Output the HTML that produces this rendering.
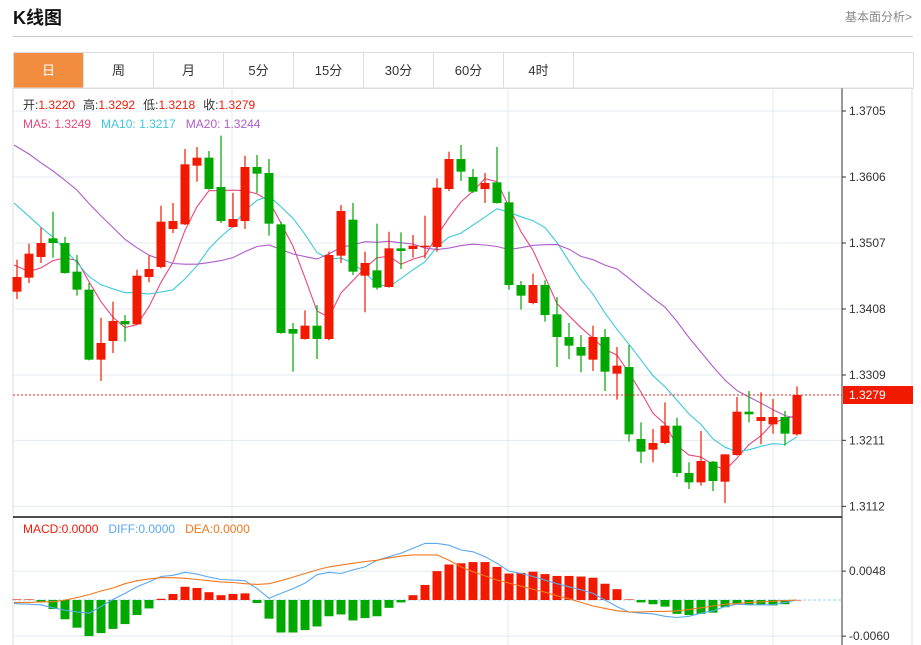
<!DOCTYPE html>
<html><head><meta charset="utf-8">
<style>
body{margin:0;width:921px;height:645px;overflow:hidden;background:#fff;font-family:"Liberation Sans","Noto Sans CJK SC",sans-serif;}
#title{position:absolute;left:13px;top:4px;font-size:18px;font-weight:bold;color:#111;}
#more{position:absolute;right:9px;top:8px;font-size:12px;color:#888;}
#hr{position:absolute;left:13px;top:36px;width:900px;height:1px;background:#ccc;}
#tabs{position:absolute;left:13px;top:52px;width:899px;height:35px;border:1px solid #ddd;border-bottom:1px solid #ddd;}
.tab{position:absolute;top:0;width:70px;height:35px;line-height:35px;text-align:center;font-size:13px;color:#333;border-right:1px solid #ddd;box-sizing:border-box;}
.tab.on{background:#f28c3e;color:#fff;}
svg{position:absolute;left:0;top:0;}
</style></head><body>
<div id="title">K线图</div>
<div id="more">基本面分析&gt;</div>
<div id="hr"></div>
<div id="tabs">
<div class="tab on" style="left:0">日</div>
<div class="tab" style="left:70px">周</div>
<div class="tab" style="left:140px">月</div>
<div class="tab" style="left:210px">5分</div>
<div class="tab" style="left:280px">15分</div>
<div class="tab" style="left:350px">30分</div>
<div class="tab" style="left:420px">60分</div>
<div class="tab" style="left:490px">4时</div>
</div>
<svg id="chart" width="921" height="645" style="top:0">
<rect x="13" y="88" width="899" height="560" fill="none" stroke="#ddd"/>
<g id="grid"></g><g id="macd"></g><g id="ma"></g><g id="candles"></g><g id="axis"></g>
<text x="23" y="109" font-size="12"><tspan fill="#333">开:</tspan><tspan fill="#f01a0a">1.3220</tspan><tspan fill="#333" dx="8">高:</tspan><tspan fill="#f01a0a">1.3292</tspan><tspan fill="#333" dx="8">低:</tspan><tspan fill="#f01a0a">1.3218</tspan><tspan fill="#333" dx="8">收:</tspan><tspan fill="#f01a0a">1.3279</tspan></text>
<text x="23" y="128" font-size="12"><tspan fill="#e8467c">MA5: 1.3249</tspan><tspan fill="#3cc8dc" dx="10">MA10: 1.3217</tspan><tspan fill="#b05cc8" dx="10">MA20: 1.3244</tspan></text>
<text x="23" y="533" font-size="12"><tspan fill="#f01a0a">MACD:0.0000</tspan><tspan fill="#5aa8f0" dx="10">DIFF:0.0000</tspan><tspan fill="#f07820" dx="10">DEA:0.0000</tspan></text>
</svg>
<script>
const opens=[1.3434,1.3455,1.3486,1.3514,1.3507,1.3464,1.3437,1.3332,1.3360,1.3390,1.3385,1.3456,1.3471,1.3528,1.3535,1.3623,1.3635,1.3591,1.3531,1.3540,1.3621,1.3612,1.3535,1.3378,1.3363,1.3383,1.3363,1.3488,1.3542,1.3458,1.3466,1.3441,1.3499,1.3498,1.3501,1.3501,1.3588,1.3633,1.3606,1.3588,1.3598,1.3568,1.3444,1.3417,1.3444,1.3400,1.3366,1.3351,1.3332,1.3366,1.3311,1.3321,1.3213,1.3197,1.3207,1.3233,1.3162,1.3148,1.3179,1.3149,1.3189,1.3254,1.3240,1.3235,1.3246,1.3220];
const highs=[1.3482,1.3506,1.3530,1.3554,1.3516,1.3489,1.3447,1.3395,1.3419,1.3399,1.3467,1.3488,1.3563,1.3567,1.3648,1.3651,1.3645,1.3668,1.3582,1.3638,1.3639,1.3633,1.3539,1.3387,1.3406,1.3414,1.3494,1.3564,1.3567,1.3494,1.3536,1.3524,1.3523,1.3519,1.3548,1.3604,1.3644,1.3654,1.3618,1.3612,1.3651,1.3584,1.3450,1.3461,1.3451,1.3426,1.3387,1.3369,1.3383,1.3378,1.3351,1.3354,1.3238,1.3228,1.3268,1.3245,1.3178,1.3225,1.3180,1.3190,1.3276,1.3285,1.3283,1.3273,1.3255,1.3292];
const lows=[1.3423,1.3447,1.3477,1.3485,1.3461,1.3428,1.3331,1.3300,1.3342,1.3359,1.3384,1.3448,1.3469,1.3522,1.3534,1.3599,1.3587,1.3537,1.3530,1.3528,1.3582,1.3518,1.3371,1.3314,1.3362,1.3333,1.3361,1.3477,1.3459,1.3403,1.3437,1.3440,1.3468,1.3485,1.3484,1.3494,1.3585,1.3600,1.3582,1.3567,1.3566,1.3437,1.3407,1.3415,1.3389,1.3321,1.3333,1.3313,1.3315,1.3285,1.3272,1.3209,1.3177,1.3178,1.3205,1.3156,1.3138,1.3143,1.3135,1.3117,1.3188,1.3238,1.3205,1.3221,1.3203,1.3218];
const closes=[1.3456,1.3491,1.3507,1.3507,1.3462,1.3437,1.3332,1.3357,1.3390,1.3385,1.3458,1.3468,1.3539,1.3540,1.3625,1.3635,1.3588,1.3540,1.3543,1.3621,1.3611,1.3536,1.3372,1.3371,1.3383,1.3363,1.3489,1.3555,1.3464,1.3477,1.3440,1.3499,1.3495,1.3503,1.3503,1.3590,1.3633,1.3614,1.3584,1.3597,1.3567,1.3444,1.3428,1.3444,1.3399,1.3366,1.3353,1.3338,1.3366,1.3314,1.3323,1.3220,1.3194,1.3207,1.3233,1.3162,1.3148,1.3180,1.3150,1.3190,1.3254,1.3250,1.3246,1.3246,1.3221,1.3279];
const priorCloses=[1.3760,1.3772,1.3750,1.3745,1.3730,1.3738,1.3725,1.3742,1.3735,1.3713,1.3690,1.3672,1.3655,1.3648,1.3635,1.3540,1.3480,1.3452,1.3442];
const macdHist=[0.0001,0.0001,-0.0004,-0.0015,-0.0032,-0.0046,-0.0060,-0.0055,-0.0048,-0.0040,-0.0025,-0.0014,0.0002,0.0010,0.0022,0.0020,0.0013,0.0008,0.0010,0.0011,-0.0005,-0.0031,-0.0054,-0.0054,-0.0050,-0.0044,-0.0027,-0.0024,-0.0034,-0.0030,-0.0027,-0.0013,-0.0004,0.0008,0.0025,0.0048,0.0059,0.0061,0.0063,0.0063,0.0055,0.0044,0.0045,0.0047,0.0043,0.0040,0.0040,0.0039,0.0037,0.0027,0.0018,0.0001,-0.0004,-0.0007,-0.0011,-0.0023,-0.0025,-0.0023,-0.0021,-0.0012,-0.0006,-0.0008,-0.0008,-0.0009,-0.0007,0.0000];
const diffValues=[-0.0006,-0.0007,-0.0008,-0.0013,-0.0017,-0.0020,-0.0022,-0.0011,0.0001,0.0011,0.0022,0.0030,0.0039,0.0041,0.0046,0.0043,0.0038,0.0034,0.0033,0.0032,0.0019,0.0003,0.0011,0.0019,0.0028,0.0042,0.0046,0.0044,0.0050,0.0055,0.0066,0.0072,0.0078,0.0086,0.0094,0.0094,0.0091,0.0083,0.0080,0.0072,0.0061,0.0048,0.0044,0.0039,0.0033,0.0027,0.0022,0.0017,0.0011,0.0000,-0.0011,-0.0020,-0.0022,-0.0023,-0.0027,-0.0029,-0.0027,-0.0022,-0.0018,-0.0011,-0.0007,-0.0008,-0.0008,-0.0008,-0.0004,0.0000];
const deaValues=[-0.0004,-0.0004,-0.0003,-0.0003,0.0000,0.0004,0.0009,0.0015,0.0020,0.0027,0.0032,0.0035,0.0037,0.0037,0.0036,0.0034,0.0032,0.0030,0.0029,0.0027,0.0026,0.0027,0.0032,0.0038,0.0044,0.0050,0.0055,0.0058,0.0061,0.0064,0.0066,0.0070,0.0073,0.0075,0.0075,0.0075,0.0066,0.0055,0.0047,0.0040,0.0033,0.0028,0.0023,0.0018,0.0013,0.0007,0.0002,-0.0004,-0.0010,-0.0014,-0.0018,-0.0020,-0.0020,-0.0019,-0.0019,-0.0018,-0.0016,-0.0013,-0.0010,-0.0007,-0.0006,-0.0004,-0.0003,-0.0002,-0.0001,0.0000];
const priceTicks=["1.3705","1.3606","1.3507","1.3408","1.3309","1.3211","1.3112"];
const macdTicks=["0.0048","-0.0060"];
const lastPrice=1.3279;

const NS="http://www.w3.org/2000/svg";
function el(tag,attrs,parent){const e=document.createElementNS(NS,tag);for(const k in attrs)e.setAttribute(k,attrs[k]);parent.appendChild(e);return e;}
const xOf=i=>17+12*i;
const yP=v=>111+(1.3705-v)/0.00015;
const yM=v=>600-v*6019;
const RED="#f11a00",GREEN="#00a800";
const grid=document.getElementById('grid'),axis=document.getElementById('axis');
priceTicks.forEach(t=>{const y=yP(parseFloat(t));
 const l=el('line',{x1:13,x2:842,y1:y,y2:y,stroke:"#e3eaf0"},grid);
 
 el('line',{x1:842,x2:846,y1:y,y2:y,stroke:"#333"},axis);
 const tx=el('text',{x:849,y:y+4,"font-size":12,fill:"#333"},axis);tx.textContent=t;
 
});
[232,508,773].forEach(x=>{const l=el('line',{x1:x,x2:x,y1:88,y2:645,stroke:"#e3eaf0"},grid);
 });
macdTicks.forEach(t=>{const y=yM(parseFloat(t));
 const l=el('line',{x1:13,x2:842,y1:y,y2:y,stroke:"#e3eaf0"},grid);
 
 el('line',{x1:842,x2:846,y1:y,y2:y,stroke:"#333"},axis);
 const tx=el('text',{x:849,y:y+4,"font-size":12,fill:"#333"},axis);tx.textContent=t;
 
});
el('line',{x1:13,x2:842,y1:600,y2:600,stroke:"#8fd3f0","stroke-dasharray":"3,2"},grid);
el('line',{x1:13,x2:842,y1:517,y2:517,stroke:"#111","stroke-width":1.5},axis);
el('line',{x1:842,x2:842,y1:88,y2:645,stroke:"#333"},axis);
el('line',{x1:13,x2:842,y1:88,y2:88,stroke:"#ddd"},axis);
const ly=yP(lastPrice);
el('line',{x1:13,x2:842,y1:ly,y2:ly,stroke:"#e02010","stroke-dasharray":"2,2"},axis);
const lr=el('rect',{x:843,y:ly-9,width:70,height:18,fill:RED},axis);

const lt=el('text',{x:849,y:ly+4,"font-size":12,fill:"#fff"},axis);lt.textContent=lastPrice.toFixed(4);
const cg=document.getElementById('candles');
closes.forEach((c,i)=>{const o=opens[i],up=c>=o,col=up?RED:GREEN,x=xOf(i);
 const g=el('g',{},cg);
 
 el('line',{x1:x,x2:x,y1:yP(highs[i]),y2:yP(lows[i]),stroke:col,"stroke-width":1.2},g);
 const t=yP(Math.max(o,c)),b=yP(Math.min(o,c));
 el('rect',{x:x-4.5,y:t,width:9,height:Math.max(1.5,b-t),fill:col},g);
});
const all=priorCloses.concat(closes),P=priorCloses.length;
function ma(n){return closes.map((_,i)=>{let s=0;for(let k=0;k<n;k++)s+=all[P+i-k];return s/n;});}
const mg=document.getElementById('ma');
[[5,"#e8467c","ma5-line"],[10,"#3cc8dc","ma10-line"],[20,"#b05cc8","ma20-line"]].forEach(([n,col,name])=>{
 const v=ma(n);const pts=v.map((m,i)=>(i?xOf(i):14)+","+yP(m).toFixed(1)).join(" ");
 const p=el('polyline',{points:pts,fill:"none",stroke:col,"stroke-width":1.1},mg);
 
});
const hg=document.getElementById('macd');
macdHist.forEach((h,i)=>{const y0=600,y1=yM(h);
 const r=el('rect',{x:xOf(i)-4.5,y:Math.min(y0,y1),width:9,height:Math.max(0.5,Math.abs(y1-y0)),fill:h>=0?RED:GREEN},hg);
 
});
[[diffValues,"#5aa8f0","diff-line"],[deaValues,"#f07820","dea-line"]].forEach(([arr,col,name])=>{
 const p=el('polyline',{points:arr.map((v,i)=>(i?xOf(i):14)+","+yM(v).toFixed(1)).join(" "),fill:"none",stroke:col,"stroke-width":1.1},hg);
 
});
</script>
</body></html>
